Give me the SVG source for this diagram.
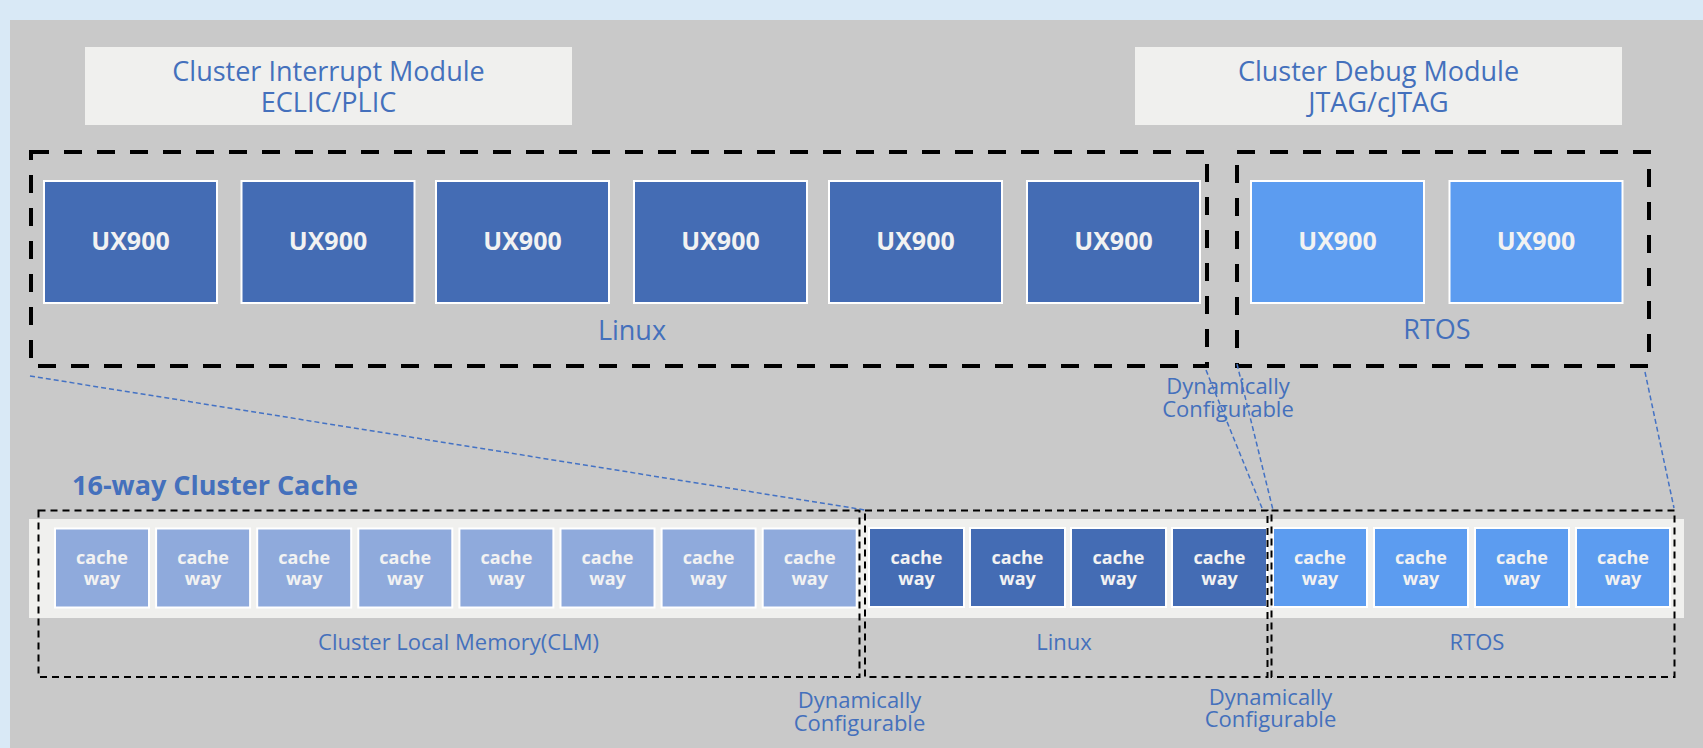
<svg xmlns="http://www.w3.org/2000/svg" width="1703" height="748" viewBox="0 0 1703 748">
<style>
.bg{fill:#D9E9F6}
.panel{fill:#C9C9C9}
.mod{fill:#F0F0EE}
.lbl{font-family:"Open Sans","Liberation Sans",sans-serif;fill:#4470BC;text-anchor:middle}
.big{font-size:27px}
.small{font-size:22px}
.core{stroke:#FFFFFF;stroke-width:2}
.dark{fill:#446CB4}
.bright{fill:#5C9CF0}
.light{fill:#8FAADC}
.wt{font-family:"Open Sans","Liberation Sans",sans-serif;font-weight:bold;fill:#F2F2F2;text-anchor:middle}
.grp{fill:none;stroke:#000;stroke-width:4;stroke-dasharray:18 15}
.grp2{fill:none;stroke:#000;stroke-width:2;stroke-dasharray:7 5}
.conn{fill:none;stroke:#4472C4;stroke-width:1.5;stroke-dasharray:5 3}
</style>
<rect class="bg" x="0" y="0" width="1703" height="748"/>
<rect class="panel" x="10" y="20" width="1693" height="728"/>

<g id="interrupt-module">
<rect class="mod" x="85" y="47" width="487" height="78"/>
<text class="lbl big" x="328.5" y="81">Cluster Interrupt Module</text>
<text class="lbl big" x="328.5" y="112">ECLIC/PLIC</text>
</g>
<g id="debug-module">
<rect class="mod" x="1135" y="47" width="487" height="78"/>
<text class="lbl big" x="1378.5" y="81">Cluster Debug Module</text>
<text class="lbl big" x="1378.5" y="112">JTAG/cJTAG</text>
</g>

<g id="linux-cores">
<rect class="grp" x="31" y="152" width="1176" height="214"/>
<text class="lbl big" x="632" y="340">Linux</text>
</g>
<g id="rtos-cores">
<rect class="grp" x="1237" y="152" width="412" height="214"/>
<text class="lbl big" x="1437" y="339">RTOS</text>
</g>

<g id="core1"><rect class="core dark" x="44" y="181" width="173" height="122"/><text class="wt" x="130.5" y="250" font-size="25">UX900</text></g>
<g id="core2"><rect class="core dark" x="241.5" y="181" width="173" height="122"/><text class="wt" x="328" y="250" font-size="25">UX900</text></g>
<g id="core3"><rect class="core dark" x="436" y="181" width="173" height="122"/><text class="wt" x="522.5" y="250" font-size="25">UX900</text></g>
<g id="core4"><rect class="core dark" x="634" y="181" width="173" height="122"/><text class="wt" x="720.5" y="250" font-size="25">UX900</text></g>
<g id="core5"><rect class="core dark" x="829" y="181" width="173" height="122"/><text class="wt" x="915.5" y="250" font-size="25">UX900</text></g>
<g id="core6"><rect class="core dark" x="1027" y="181" width="173" height="122"/><text class="wt" x="1113.5" y="250" font-size="25">UX900</text></g>
<g id="core7"><rect class="core bright" x="1251" y="181" width="173" height="122"/><text class="wt" x="1337.5" y="250" font-size="25">UX900</text></g>
<g id="core8"><rect class="core bright" x="1449.5" y="181" width="173" height="122"/><text class="wt" x="1536" y="250" font-size="25">UX900</text></g>

<g id="dyn-top">
<text class="lbl small" x="1228" y="394">Dynamically</text>
<text class="lbl small" x="1228" y="417">Configurable</text>
</g>

<g id="cache-title">
<text x="72" y="495" font-family="Open Sans, Liberation Sans, sans-serif" font-weight="bold" font-size="27" fill="#4470BC">16-way Cluster Cache</text>
</g>

<g id="cache-band"><rect class="mod" x="29" y="519" width="1655" height="99"/></g>

<g id="cache-ways" font-size="18">
<g id="way1"><rect class="core light" x="55" y="528.5" width="94" height="79"/><text class="wt" x="102" y="564">cache</text><text class="wt" x="102" y="584.5">way</text></g>
<g id="way2"><rect class="core light" x="156.1" y="528.5" width="94" height="79"/><text class="wt" x="203.1" y="564">cache</text><text class="wt" x="203.1" y="584.5">way</text></g>
<g id="way3"><rect class="core light" x="257.2" y="528.5" width="94" height="79"/><text class="wt" x="304.2" y="564">cache</text><text class="wt" x="304.2" y="584.5">way</text></g>
<g id="way4"><rect class="core light" x="358.3" y="528.5" width="94" height="79"/><text class="wt" x="405.3" y="564">cache</text><text class="wt" x="405.3" y="584.5">way</text></g>
<g id="way5"><rect class="core light" x="459.4" y="528.5" width="94" height="79"/><text class="wt" x="506.4" y="564">cache</text><text class="wt" x="506.4" y="584.5">way</text></g>
<g id="way6"><rect class="core light" x="560.5" y="528.5" width="94" height="79"/><text class="wt" x="607.5" y="564">cache</text><text class="wt" x="607.5" y="584.5">way</text></g>
<g id="way7"><rect class="core light" x="661.6" y="528.5" width="94" height="79"/><text class="wt" x="708.6" y="564">cache</text><text class="wt" x="708.6" y="584.5">way</text></g>
<g id="way8"><rect class="core light" x="762.7" y="528.5" width="94" height="79"/><text class="wt" x="809.7" y="564">cache</text><text class="wt" x="809.7" y="584.5">way</text></g>
<g id="way9"><rect class="core dark" x="869" y="528" width="95" height="79"/><text class="wt" x="916.5" y="564">cache</text><text class="wt" x="916.5" y="584.5">way</text></g>
<g id="way10"><rect class="core dark" x="970" y="528" width="95" height="79"/><text class="wt" x="1017.5" y="564">cache</text><text class="wt" x="1017.5" y="584.5">way</text></g>
<g id="way11"><rect class="core dark" x="1071" y="528" width="95" height="79"/><text class="wt" x="1118.5" y="564">cache</text><text class="wt" x="1118.5" y="584.5">way</text></g>
<g id="way12"><rect class="core dark" x="1172" y="528" width="95" height="79"/><text class="wt" x="1219.5" y="564">cache</text><text class="wt" x="1219.5" y="584.5">way</text></g>
<g id="way13"><rect class="core bright" x="1273" y="528" width="94" height="79"/><text class="wt" x="1320" y="564">cache</text><text class="wt" x="1320" y="584.5">way</text></g>
<g id="way14"><rect class="core bright" x="1374" y="528" width="94" height="79"/><text class="wt" x="1421" y="564">cache</text><text class="wt" x="1421" y="584.5">way</text></g>
<g id="way15"><rect class="core bright" x="1475" y="528" width="94" height="79"/><text class="wt" x="1522" y="564">cache</text><text class="wt" x="1522" y="584.5">way</text></g>
<g id="way16"><rect class="core bright" x="1576" y="528" width="94" height="79"/><text class="wt" x="1623" y="564">cache</text><text class="wt" x="1623" y="584.5">way</text></g>
</g>

<g id="clm-group">
<rect class="grp2" x="38.5" y="510.5" width="821" height="166.5"/>
<text class="lbl small" x="458.5" y="650">Cluster Local Memory(CLM)</text>
</g>
<g id="linux-ways">
<rect class="grp2" x="865" y="510.5" width="402.5" height="166.5"/>
<text class="lbl small" x="1064" y="650">Linux</text>
</g>
<g id="rtos-ways">
<rect class="grp2" x="1271.5" y="510.5" width="403" height="166.5"/>
<text class="lbl small" x="1477" y="650">RTOS</text>
</g>

<g id="dyn-bottom-1">
<text class="lbl small" x="859.5" y="708">Dynamically</text>
<text class="lbl small" x="859.5" y="731">Configurable</text>
</g>
<g id="dyn-bottom-2">
<text class="lbl small" x="1270.5" y="705">Dynamically</text>
<text class="lbl small" x="1270.5" y="727">Configurable</text>
</g>

<g id="connectors">
<line class="conn" x1="30" y1="376" x2="865" y2="510"/>
<line class="conn" x1="1206" y1="370" x2="1262" y2="508"/>
<line class="conn" x1="1237" y1="364" x2="1273" y2="510"/>
<line class="conn" x1="1645" y1="372" x2="1674" y2="508"/>
</g>
</svg>
